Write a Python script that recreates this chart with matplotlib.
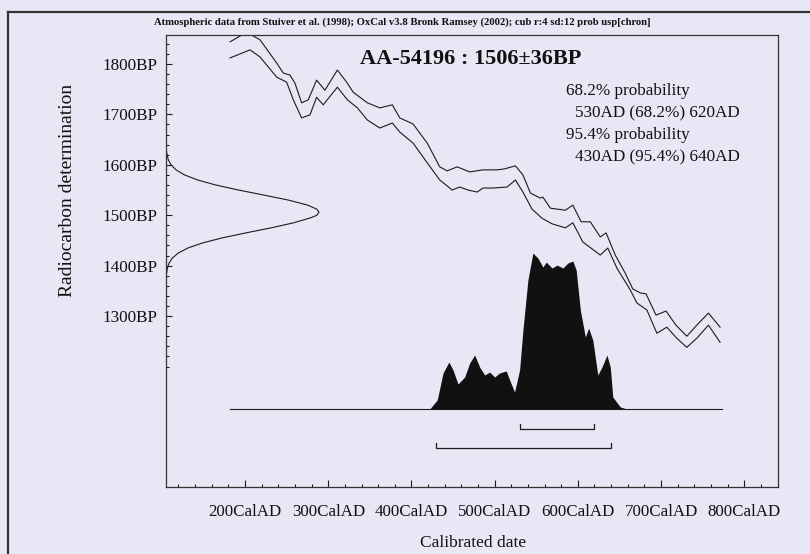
import matplotlib
matplotlib.use("Agg")
import matplotlib.pyplot as plt
import matplotlib.transforms as mtransforms
from matplotlib.lines import Line2D
from matplotlib.ticker import MultipleLocator, FixedLocator, FuncFormatter

plt.rcParams['font.family'] = ['Liberation Serif', 'DejaVu Serif']

BG = '#e8e7f5'
INK = '#1c1c1c'

# calibration curve envelope (cal AD, BP)
upper_years = [182, 202, 218, 238, 246, 254, 260, 268, 276, 286, 296, 311, 323, 330,
               347, 362, 377, 386, 402, 419, 434, 443, 455, 470, 486, 503, 512, 525,
               534, 543, 555, 558, 567, 585, 594, 604, 615, 627, 634, 645, 657, 666,
               675, 682, 694, 706, 718, 731, 743, 757, 771]
upper_bp = [1844, 1863, 1848, 1802, 1782, 1778, 1762, 1723, 1729, 1768, 1748, 1788, 1762, 1744,
            1723, 1713, 1719, 1693, 1681, 1643, 1596, 1588, 1596, 1586, 1590, 1590, 1592, 1598,
            1580, 1544, 1534, 1536, 1514, 1510, 1520, 1487, 1487, 1457, 1465, 1421, 1385, 1354,
            1346, 1344, 1302, 1310, 1282, 1260, 1282, 1306, 1278]

lower_years = [182, 206, 218, 238, 250, 258, 268, 278, 286, 294, 311, 323, 335, 347,
               362, 377, 386, 402, 419, 434, 449, 458, 468, 479, 486, 498, 515, 525,
               534, 545, 557, 569, 585, 594, 606, 627, 636, 647, 663, 671, 683, 695,
               707, 719, 731, 743, 757, 771]
lower_bp = [1812, 1828, 1814, 1774, 1764, 1729, 1693, 1699, 1734, 1719, 1754, 1729, 1713, 1689,
            1673, 1683, 1665, 1643, 1604, 1570, 1550, 1556, 1550, 1546, 1554, 1554, 1556, 1570,
            1546, 1512, 1494, 1483, 1475, 1485, 1447, 1421, 1435, 1395, 1352, 1326, 1312, 1266,
            1278, 1256, 1238, 1256, 1282, 1248]

# radiocarbon measurement 1506+-36 BP, relative probability
c14_bp = [1385, 1395, 1405, 1415, 1425, 1435, 1445, 1455, 1465, 1475, 1485, 1495, 1500,
          1506, 1512, 1520, 1530, 1540, 1550, 1560, 1570, 1580, 1590, 1600, 1610, 1620, 1628]
c14_prob = [0.004, 0.009, 0.020, 0.041, 0.080, 0.143, 0.238, 0.366, 0.522, 0.687, 0.834, 0.946,
            0.986, 1.0, 0.986, 0.927, 0.801, 0.640, 0.474, 0.325, 0.206, 0.121, 0.066, 0.033,
            0.015, 0.007, 0.003]

# calibrated date, relative probability
cal_years = [422, 431, 438, 445, 450, 456, 464, 470, 476, 482, 488, 494, 500, 506, 514,
             518, 524, 530, 534, 540, 546, 552, 558, 562, 569, 575, 582, 588, 594, 598,
             603, 609, 613, 618, 624, 629, 635, 639, 642, 651, 659]
cal_prob = [0.0, 0.058, 0.231, 0.301, 0.25, 0.160, 0.205, 0.295, 0.346, 0.269, 0.218, 0.237,
            0.205, 0.231, 0.244, 0.186, 0.109, 0.25, 0.506, 0.827, 1.0, 0.968, 0.910, 0.942,
            0.904, 0.923, 0.904, 0.936, 0.949, 0.891, 0.635, 0.462, 0.519, 0.442, 0.218, 0.269,
            0.346, 0.269, 0.077, 0.013, 0.0]

range_68 = (530, 620)
range_95 = (430, 640)

fig = plt.figure(figsize=(8.1, 5.54), dpi=100, facecolor=BG)

# scanned page frame
fig.add_artist(Line2D([8 / 810, 8 / 810], [0, 1 - 12 / 554], transform=fig.transFigure,
                      color='#333333', lw=1.6))
fig.add_artist(Line2D([8 / 810, 1.0], [1 - 12 / 554, 1 - 12 / 554], transform=fig.transFigure,
                      color='#333333', lw=1.6))

ax = fig.add_axes([166 / 810, 67 / 554, 612 / 810, 452 / 554], facecolor=BG)

ax.plot(upper_years, upper_bp, color=INK, lw=0.8)
ax.plot(lower_years, lower_bp, color=INK, lw=0.8)

trans_y = mtransforms.blended_transform_factory(ax.transAxes, ax.transData)
ax.plot([p * 0.25 for p in c14_prob], c14_bp, color=INK, lw=0.8, transform=trans_y)

trans_x = mtransforms.blended_transform_factory(ax.transData, ax.transAxes)
base = 0.1726
ax.fill_between(cal_years, base, [base + p * 0.345 for p in cal_prob],
                color='#111111', lw=0, transform=trans_x)
ax.plot([182, 773], [base, base], color=INK, lw=0.8, transform=trans_x)

for (lo, hi), yb in [(range_68, 0.1283), (range_95, 0.0863)]:
    ax.plot([lo, lo, hi, hi], [yb + 0.012, yb, yb, yb + 0.012], color=INK, lw=0.9,
            transform=trans_x)

ax.set_xlim(105, 840.6)
ax.set_ylim(961, 1857.5)

ax.xaxis.set_major_locator(MultipleLocator(100))
ax.xaxis.set_minor_locator(MultipleLocator(20))
ax.xaxis.set_major_formatter(FuncFormatter(lambda v, p: f"{int(v)}CalAD"))
ax.yaxis.set_major_locator(FixedLocator([1300, 1400, 1500, 1600, 1700, 1800]))
ax.yaxis.set_minor_locator(FixedLocator(list(range(1200, 1860, 20))))
ax.yaxis.set_major_formatter(FuncFormatter(lambda v, p: f"{int(v)}BP"))

ax.tick_params(which='both', direction='in', color=INK, width=0.8, labelcolor='#111111')
ax.tick_params(axis='x', which='major', length=5, pad=12, labelsize=12.2)
ax.tick_params(axis='x', which='minor', length=2.5)
ax.tick_params(axis='y', which='major', length=4.5, pad=6, labelsize=12.3)
ax.tick_params(axis='y', which='minor', length=2.2)
for s in ax.spines.values():
    s.set_color('#333333')
    s.set_linewidth(0.9)

fig.text(402 / 810, 1 - 22 / 554,
         "Atmospheric data from Stuiver et al. (1998); OxCal v3.8 Bronk Ramsey (2002); "
         "cub r:4 sd:12 prob usp[chron]",
         fontsize=7.7, fontweight='bold', ha='center', va='center', color='#111111')
fig.text(471 / 810, 1 - 59 / 554, "AA-54196 : 1506\u00b136BP", fontsize=16,
         fontweight='bold', ha='center', va='center', color='#111111')

prob_lines = [("68.2% probability", 566, 91), ("530AD (68.2%) 620AD", 575, 113),
              ("95.4% probability", 566, 135), ("430AD (95.4%) 640AD", 575, 157)]
for txt, px, py in prob_lines:
    fig.text(px / 810, 1 - py / 554, txt, fontsize=12.3, ha='left', va='center',
             color='#111111')

fig.text(473 / 810, 1 - 543 / 554, "Calibrated date", fontsize=12.5, ha='center',
         va='center', color='#111111')
fig.text(67 / 810, 1 - 190 / 554, "Radiocarbon determination", fontsize=14,
         rotation=90, ha='center', va='center', color='#111111')

fig.savefig("out.png", dpi=100, facecolor=BG)
